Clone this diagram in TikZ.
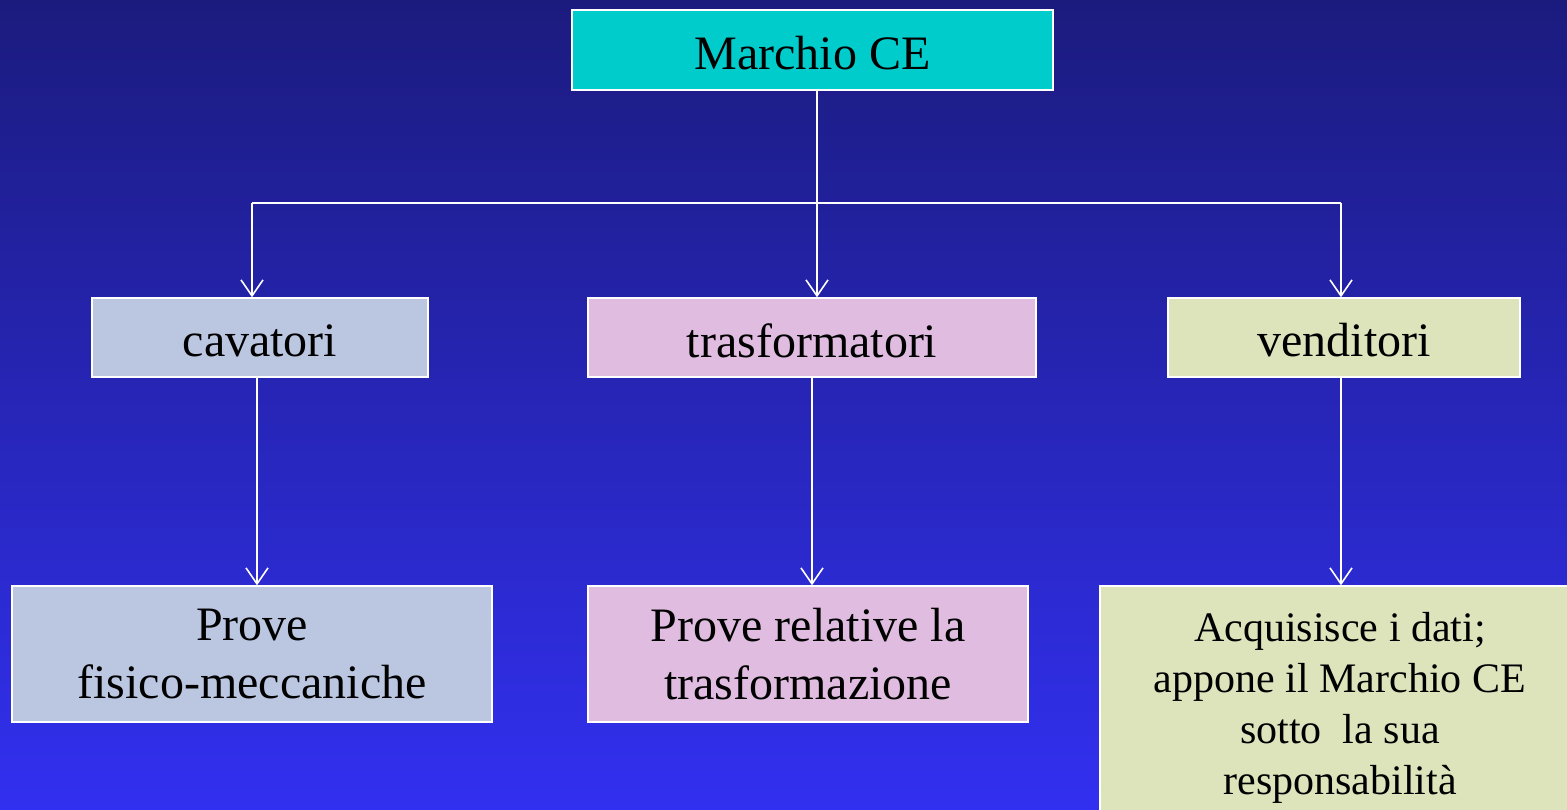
\documentclass[tikz,border=0pt]{standalone}
\usepackage{fontspec}
\setmainfont{Liberation Serif}
\usepackage{tikz}
\usetikzlibrary{calc,positioning,arrows.meta}
\definecolor{bgtop}{RGB}{27,27,126}
\definecolor{bgbot}{RGB}{50,48,240}
\definecolor{ceblue}{RGB}{0,204,204}
\definecolor{cavcol}{RGB}{187,198,225}
\definecolor{trascol}{RGB}{224,188,224}
\definecolor{vendcol}{RGB}{221,228,188}
\newcommand{\lowtext}[1]{\raisebox{-3pt}[\height][\depth]{#1}}

\begin{document}
\begin{tikzpicture}[x=1pt,y=-1pt,line width=1.6pt,
  box/.style={draw=white,line width=1.4pt,inner sep=0pt,align=center,
    font=\fontsize{48}{58}\selectfont},
  arr/.style={white,-{Straight Barb[length=16pt,width=22pt]}}]
\useasboundingbox (0,0) rectangle (1567,809);
\shade[top color=bgtop,bottom color=bgbot] (0,0) rectangle (1567,809);
\clip (0,0) rectangle (1567,809);

\node (marchio) [box,fill=ceblue,minimum width=481,minimum height=80] at (812.5,50) {\lowtext{Marchio CE}};

\node (cav) [box,fill=cavcol,minimum width=336,minimum height=79] at (260,337.5) {\lowtext{cavatori}};
\node (tras) [box,fill=trascol,minimum width=448,minimum height=79] at (812,337.5) {\lowtext{trasformatori}};
\node (vend) [box,fill=vendcol,minimum width=352,minimum height=79] at (1344,337.5) {\lowtext{venditori}};

\node (provefm) [box,fill=cavcol,minimum width=480,minimum height=136] at (252,654) {Prove\\fisico-meccaniche};
\node (provetr) [box,fill=trascol,minimum width=440,minimum height=136] at (808,654) {Prove relative la\\trasformazione};
\node (acq) [box,fill=vendcol,minimum width=480,minimum height=244,
  font=\fontsize{42}{51}\selectfont] at (1340,708)
  {Acquisisce i dati;\\appone il Marchio CE\\sotto\ \ la sua\\responsabilità};

\coordinate (jl) at (252,203);
\coordinate (jr) at (1341,203);

\draw[arr] ([xshift=4.5]marchio.south) -- ([xshift=5]tras.north);
\draw[white] (jl) -- (jr);
\draw[arr] (jl) -- (jl |- cav.north);
\draw[arr] (jr) -- (jr |- vend.north);

\draw[arr] ([xshift=-3]cav.south) -- ([xshift=5]provefm.south |- provefm.north);
\draw[arr] (tras.south) -- ([xshift=4]provetr.north);
\draw[arr] ([xshift=-3]vend.south) -- (jr |- acq.north);
\end{tikzpicture}
\end{document}
